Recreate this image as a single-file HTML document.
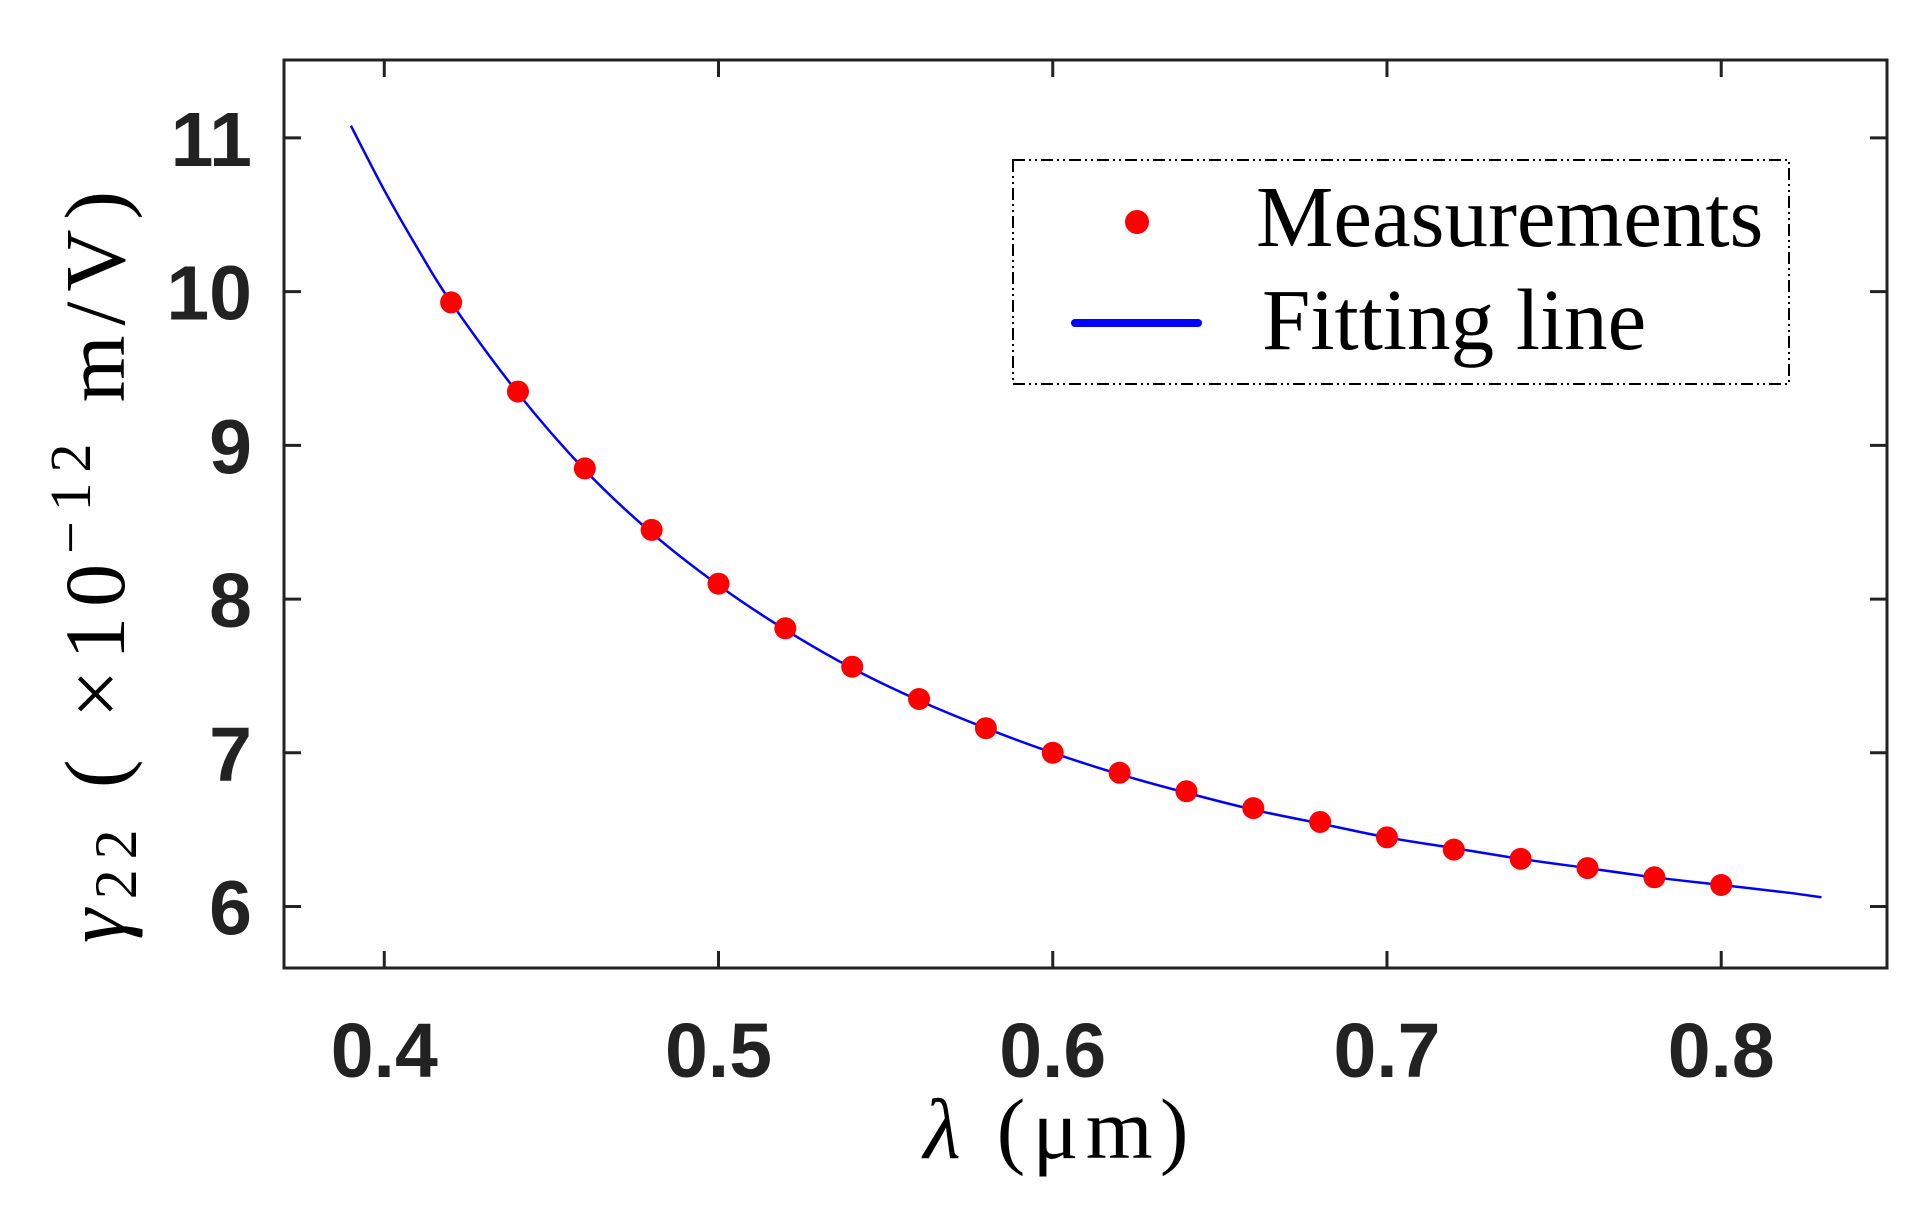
<!DOCTYPE html>
<html><head><meta charset="utf-8"><style>
html,body{margin:0;padding:0;background:#fff;}
svg{display:block;}
</style></head><body>
<svg id="chart" width="1922" height="1223" viewBox="0 0 1922 1223" xmlns="http://www.w3.org/2000/svg">
<g id="grid-layer"></g>
<g id="data-layer"></g>
<g id="axes-layer"></g>
<text x="1056" y="1158" text-anchor="middle" textLength="265" lengthAdjust="spacing" font-family="Liberation Serif, serif" font-size="86" fill="#000"><tspan font-style="italic">λ</tspan>  (μm)</text>
<text transform="translate(124,567) rotate(-90)" text-anchor="middle" textLength="752" lengthAdjust="spacing" font-family="Liberation Serif, serif" font-size="86" fill="#000"><tspan font-style="italic">γ</tspan><tspan font-size="60" dy="12">22</tspan><tspan dy="-12"> ( ×10</tspan><tspan font-size="58" dy="-34">−12</tspan><tspan dy="34"> m/V)</tspan></text>
<g>
<rect x="1013" y="160" width="776" height="224" fill="#fff" stroke="#000" stroke-width="2" stroke-dasharray="12,4,2,4,2,4"/>
<circle cx="1137" cy="222" r="12" fill="#ff0000"/>
<text x="1256" y="246" font-family="Liberation Serif, serif" font-size="87" fill="#000">Measurements</text>
<line x1="1075" y1="323" x2="1198" y2="323" stroke="#0000ff" stroke-width="8" stroke-linecap="round"/>
<text x="1262" y="349" font-family="Liberation Serif, serif" font-size="87" fill="#000">Fitting line</text>
</g>
</svg>
<script>
const measX = [0.42,0.44,0.46,0.48,0.50,0.52,0.54,0.56,0.58,0.60,0.62,0.64,0.66,0.68,0.70,0.72,0.74,0.76,0.78,0.80];
const measY = [9.93,9.35,8.85,8.45,8.10,7.81,7.56,7.35,7.16,7.00,6.87,6.75,6.64,6.55,6.45,6.37,6.31,6.25,6.19,6.14];
const fitX = [0.39,0.40,0.41,0.42,0.44,0.46,0.48,0.50,0.52,0.54,0.56,0.58,0.60,0.62,0.64,0.66,0.68,0.70,0.72,0.74,0.76,0.78,0.80,0.82,0.83];
const fitY = [11.08,10.66,10.28,9.93,9.34,8.84,8.43,8.09,7.80,7.55,7.34,7.16,7.00,6.86,6.74,6.63,6.54,6.45,6.38,6.31,6.25,6.19,6.14,6.09,6.06];
const xTicks = [0.4,0.5,0.6,0.7,0.8];
const xTickLabels = ["0.4","0.5","0.6","0.7","0.8"];
const yTicks = [6,7,8,9,10,11];
const yTickLabels = ["6","7","8","9","10","11"];

const NS = "http://www.w3.org/2000/svg";
const L = 284, R = 1887, T = 60, B = 968;
const xMin = 0.37, xMax = 0.8496, yMin = 5.60, yMax = 11.507;
function xs(v){ return L + (v - xMin) / (xMax - xMin) * (R - L); }
function ys(v){ return B - (v - yMin) / (yMax - yMin) * (B - T); }
function mk(tag, attrs, parent){
  const el = document.createElementNS(NS, tag);
  for (const k in attrs) el.setAttribute(k, attrs[k]);
  parent.appendChild(el);
  return el;
}
const data = document.getElementById('data-layer');
const axes = document.getElementById('axes-layer');

const pts = fitX.map((x,i)=>[xs(x), ys(fitY[i])]);
let d = "M" + pts[0][0] + "," + pts[0][1];
for (let i=0;i<pts.length-1;i++){
  const p0 = pts[Math.max(0,i-1)], p1 = pts[i], p2 = pts[i+1], p3 = pts[Math.min(pts.length-1,i+2)];
  const c1 = [p1[0]+(p2[0]-p0[0])/6, p1[1]+(p2[1]-p0[1])/6];
  const c2 = [p2[0]-(p3[0]-p1[0])/6, p2[1]-(p3[1]-p1[1])/6];
  d += " C"+c1[0]+","+c1[1]+" "+c2[0]+","+c2[1]+" "+p2[0]+","+p2[1];
}
const curve = mk('path', {d:d, fill:'none', stroke:'#0000ff', 'stroke-width':2.5}, data);



measX.forEach((x,i)=>{
  const c = mk('circle', {cx:xs(x), cy:ys(measY[i]), r:11, fill:'#ff0000'}, data);
  
  
});

const box = mk('rect', {x:L, y:T, width:R-L, height:B-T, fill:'none', stroke:'#222', 'stroke-width':3}, axes);



const tl = 17;
xTicks.forEach((v,i)=>{
  const x = xs(v);
  const t1 = mk('line', {x1:x, y1:B, x2:x, y2:B-tl, stroke:'#222', 'stroke-width':3}, axes);
  
  
  const t2 = mk('line', {x1:x, y1:T, x2:x, y2:T+tl, stroke:'#222', 'stroke-width':3}, axes);
  
  
  const lb = mk('text', {x:x, y:1077, 'text-anchor':'middle', 'font-family':'Liberation Sans, sans-serif', 'font-weight':'bold', 'font-size':77, fill:'#222'}, axes);
  lb.textContent = xTickLabels[i];
  
  
});
yTicks.forEach((v,i)=>{
  const y = ys(v);
  const t1 = mk('line', {x1:L, y1:y, x2:L+tl, y2:y, stroke:'#222', 'stroke-width':3}, axes);
  
  
  const t2 = mk('line', {x1:R, y1:y, x2:R-tl, y2:y, stroke:'#222', 'stroke-width':3}, axes);
  
  
  const lb = mk('text', {x:252, y:y+28, 'text-anchor':'end', 'font-family':'Liberation Sans, sans-serif', 'font-weight':'bold', 'font-size':77, fill:'#222'}, axes);
  lb.textContent = yTickLabels[i];
  
  
});
</script>
</body></html>
